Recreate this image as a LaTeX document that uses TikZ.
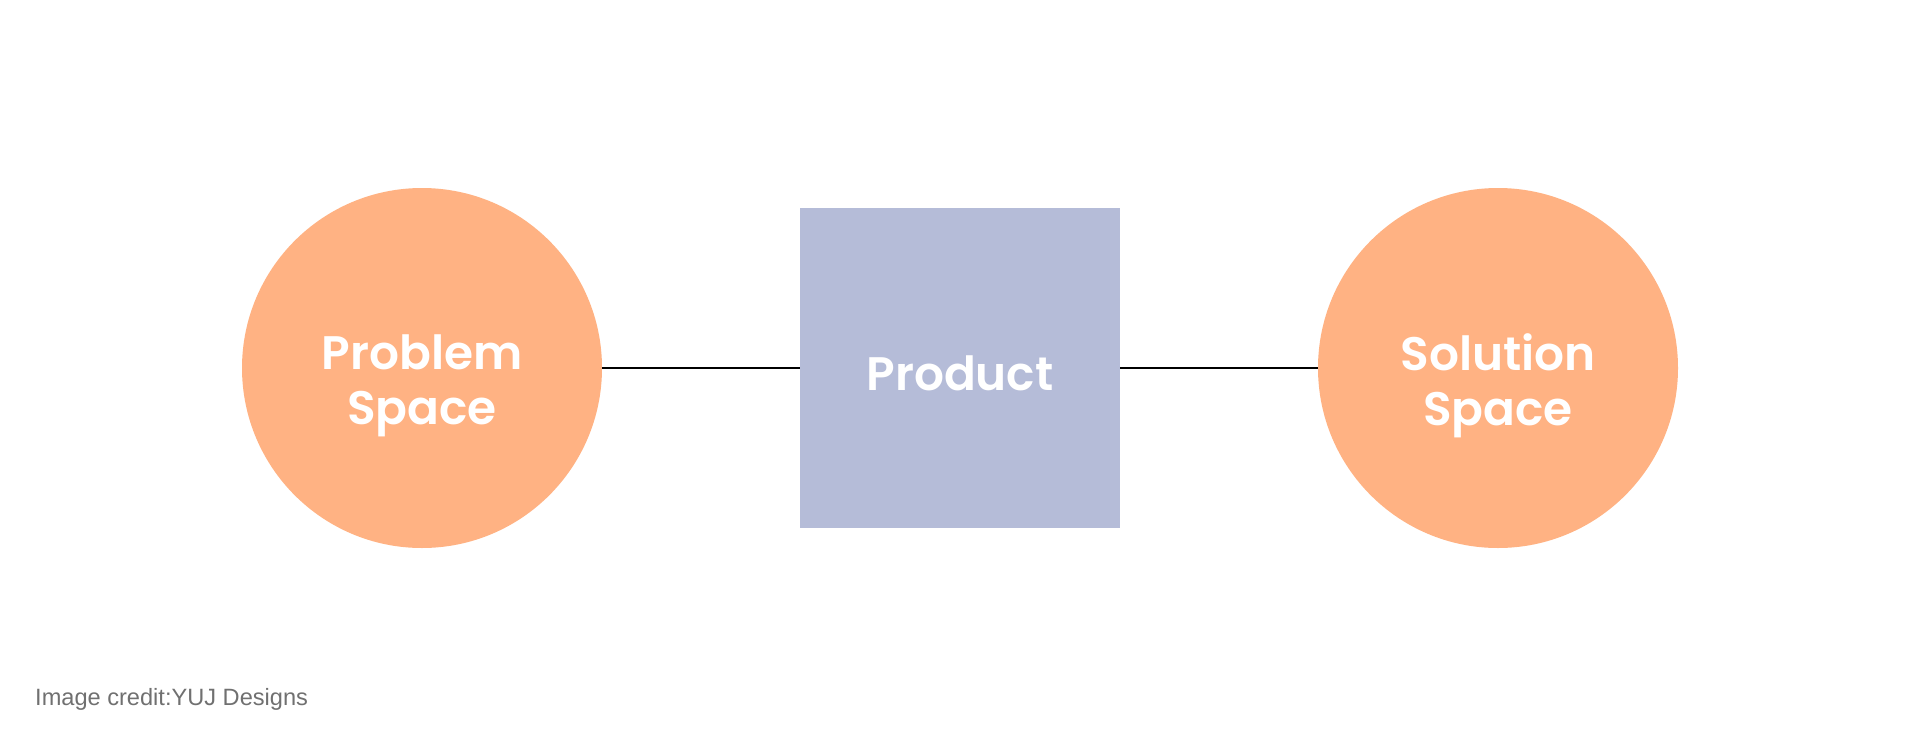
\documentclass[tikz,border=0pt]{standalone}
\usepackage{fontspec}
\setmainfont{Liberation Sans}
\newfontfamily\popfont{Poppins}[BoldFont={* SemiBold}]
\definecolor{peach}{HTML}{FFB283}
\definecolor{lilac}{HTML}{B5BCD8}
\definecolor{creditgray}{HTML}{707070}

\begin{document}
\begin{tikzpicture}[x=1pt,y=-1pt,
  space/.style={circle,fill=peach,minimum size=360pt,inner sep=0pt},
  prodbox/.style={rectangle,fill=lilac,minimum size=320pt,inner sep=0pt},
  lbl/.style={text=white,align=center,inner sep=0pt,
    font=\popfont\bfseries\fontsize{47}{55}\selectfont}]
  \useasboundingbox (0,0) rectangle (1920,734);
  \node[space] (problem) at (422,368) {};
  \node[prodbox] (product) at (960,368) {};
  \node[space] (solution) at (1498,368) {};
  \node[lbl] (problemtext) at (422,386) {Problem\\Space};
  \node[lbl] (producttext) at (960,373) {Product};
  \node[lbl] (solutiontext) at (1498,386) {Solution\\Space};
  \draw[line width=1.6pt] (problem) -- (product);
  \draw[line width=1.6pt] (product) -- (solution);
  \node[anchor=base west,text=creditgray,font=\fontsize{23.6}{28}\selectfont,inner sep=0pt]
    (credit) at (35,705) {Image credit:YUJ Designs};
\end{tikzpicture}
\end{document}
